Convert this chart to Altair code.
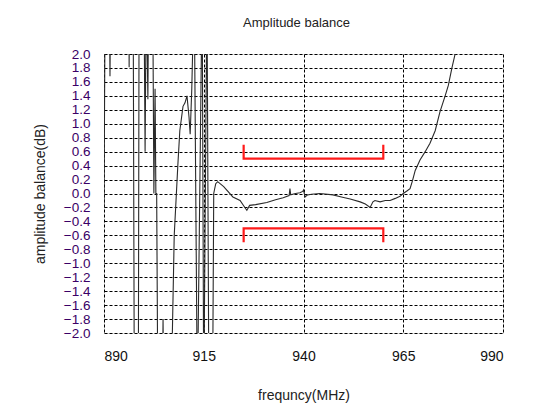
import altair as alt
import pandas as pd

# measured trace: frequency (MHz) and amplitude balance (dB); values beyond +-2 are off-scale
freq = [890.0, 890.3, 891.3, 891.5, 891.7, 896.2, 896.3, 896.4, 897.3, 897.4, 897.6, 898.6, 898.8,
        900.0, 900.3, 900.6, 901.0, 901.2, 902.2, 902.5, 902.8, 903.0, 903.2, 903.5, 904.6, 904.8, 905.0,
        906.8, 907.6, 908.5, 909.0, 909.8, 910.3, 910.8, 911.3, 911.6, 912.0, 912.6, 913.4, 914.6, 915.0,
        915.8, 916.3, 917.2, 917.5, 918.0, 918.5, 920.0, 922.3, 924.1, 925.3, 925.8, 926.5, 928.0,
        930.8, 933.0, 934.9, 936.4, 936.6, 936.8, 938.0, 939.1, 939.8, 940.0, 940.4, 941.0, 942.0,
        944.1, 947.4, 949.5, 951.7, 954.2, 955.5, 956.7, 957.4, 957.9, 959.2, 960.5, 961.7, 963.0,
        964.2, 965.0, 966.0, 966.7, 967.3, 968.0, 969.2, 970.5, 971.7, 973.0, 974.2, 975.5, 976.3,
        977.2, 978.0, 978.5]
balance = [-0.2, 3.0, 3.0, 1.68, 3.0, 3.0, 1.81, 3.0, 3.0, 1.1, -3.0, -3.0, 3.0,
           3.0, 0.6, 3.0, 1.35, 3.0, 3.0, 0.0, 1.5, 0.0, 0.0, -3.0, -3.0, -1.8, -3.0,
           -3.0, -0.6, 0.4, 0.9, 1.25, 1.3, 1.4, 1.1, 0.85, 1.5, 3.0, -3.0, 3.0, -3.0,
           3.0, -3.0, -3.0, 0.0, 0.14, 0.17, 0.1, -0.05, -0.1, -0.2, -0.24, -0.17, -0.16,
           -0.13, -0.09, -0.06, -0.03, 0.07, -0.02, 0.0, 0.01, 0.03, 0.05, -0.05, -0.02, -0.01,
           0.0, -0.02, -0.05, -0.08, -0.12, -0.15, -0.2, -0.12, -0.1, -0.12, -0.1, -0.1, -0.07,
           -0.04, 0.0, 0.04, 0.07, 0.18, 0.33, 0.48, 0.6, 0.72, 0.9, 1.17, 1.4, 1.55,
           1.8, 2.0, 2.3]

# spec limit brackets
br_group = ["upper"] * 4 + ["lower"] * 4
br_freq = [925, 925, 960, 960, 925, 925, 960, 960]
br_val = [0.7, 0.5, 0.5, 0.7, -0.7, -0.5, -0.5, -0.7]
br_order = [0, 1, 2, 3, 0, 1, 2, 3]

x_ticks = [890, 915, 940, 965, 990]
y_ticks = [round(-2.0 + 0.2 * i, 1) for i in range(21)]

df = pd.DataFrame({"f": freq, "v": balance})
dfb = pd.DataFrame({"g": br_group, "f": br_freq, "v": br_val, "o": br_order})

xs = alt.Scale(domain=[890, 990], nice=False, zero=False)
ys = alt.Scale(domain=[-2, 2], nice=False, zero=False)

xaxis = alt.Axis(values=x_ticks, tickCount=5, title="frequncy(MHz)", format="d", grid=True,
                 gridColor="black", gridDash=[3, 2], gridWidth=1, gridOpacity=1,
                 ticks=False, domain=False, labelPadding=16, labelFontSize=14,
                 labelColor="#111", titleFontSize=14, titleFontWeight="normal",
                 titlePadding=25, labelFont="Liberation Sans", titleFont="Liberation Sans",
                 titleColor="#222", labelOverlap=False)
yaxis = alt.Axis(values=y_ticks, tickCount=21, title="amplitude balance(dB)", format=".1f",
                 grid=True, gridColor="black", gridDash=[3, 2], gridWidth=1, gridOpacity=1,
                 ticks=False, domain=False, labelPadding=14, labelFontSize=13.5,
                 labelColor="#3a0066", titleFontSize=14, titleFontWeight="normal",
                 titlePadding=16, labelFont="Liberation Sans", titleFont="Liberation Sans",
                 titleColor="#222", labelOverlap=False)

trace = alt.Chart(df).mark_line(color="#2a2a2a", strokeWidth=1.1, clip=True).encode(
    x=alt.X("f:Q", scale=xs, axis=xaxis),
    y=alt.Y("v:Q", scale=ys, axis=yaxis),
)

brackets = alt.Chart(dfb).mark_line(color="#ff1a1a", strokeWidth=2.2, clip=True).encode(
    x=alt.X("f:Q", scale=xs),
    y=alt.Y("v:Q", scale=ys),
    detail="g:N",
    order="o:Q",
)

chart = (trace + brackets).properties(
    width=399, height=279,
    title=alt.TitleParams("Amplitude balance", fontSize=13, fontWeight="normal",
                          font="Liberation Sans", color="#222", offset=17, dx=-7),
    autosize=alt.AutoSizeParams(type="none"),
    padding={"left": 96, "top": 46, "right": 30, "bottom": 72},
).configure_view(stroke="#222", strokeWidth=1.5).configure(background="white")

chart.save("out.html", embed_options={"renderer": "svg", "actions": False})
